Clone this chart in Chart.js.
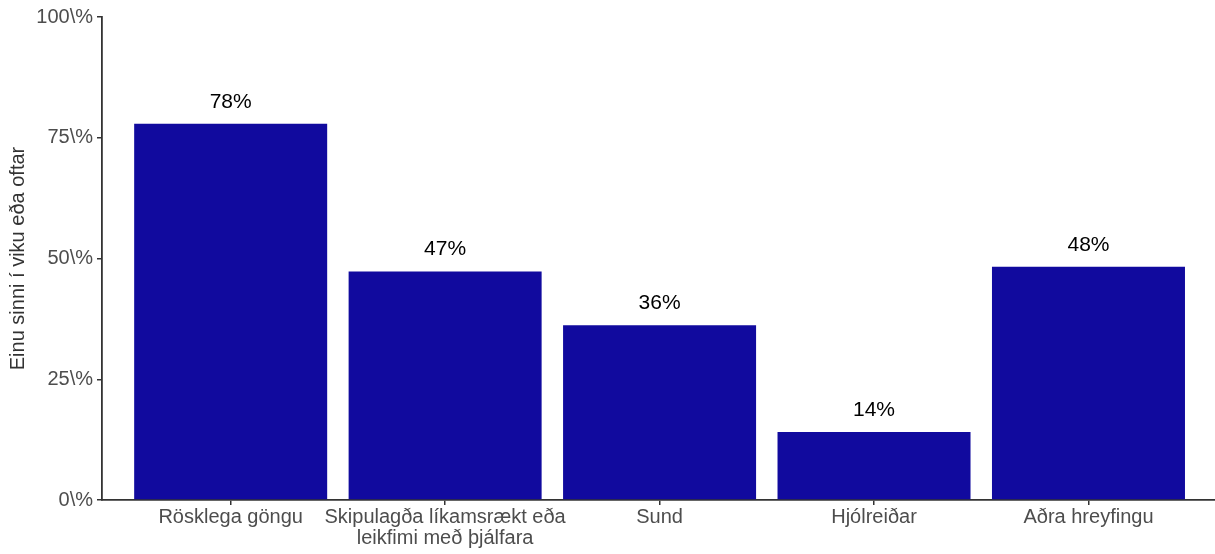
<!DOCTYPE html>
<html>
<head>
<meta charset="utf-8">
<script src="https://cdn.jsdelivr.net/npm/chart.js@4"></script>
<style>
  html, body { margin: 0; padding: 0; background: #fff; }
  #wrap { width: 1215px; height: 554px; }
</style>
</head>
<body>
<div id="wrap"><canvas id="myChart" width="1215" height="554"></canvas></div>
<script>
var categories = [
  'Rösklega göngu',
  ['Skipulagða líkamsrækt eða', 'leikfimi með þjálfara'],
  'Sund',
  'Hjólreiðar',
  'Aðra hreyfingu'
];
var values = [77.9, 47.3, 36.2, 14.1, 48.3];
var yTicks = [0, 25, 50, 75, 100];
var yTitle = 'Einu sinni í viku eða oftar';

var points = [];
for (var i = 0; i < values.length; i++) {
  points.push({x: i, y: values[i]});
}

var fontFam = '"Liberation Sans", Arial, sans-serif';

// labels above the bars
var barLabels = {
  id: 'barLabels',
  afterDatasetsDraw: function (chart) {
    var ctx = chart.ctx;
    var meta = chart.getDatasetMeta(0);
    ctx.save();
    ctx.font = '21px ' + fontFam;
    ctx.fillStyle = '#000';
    ctx.textAlign = 'center';
    ctx.textBaseline = 'middle';
    meta.data.forEach(function (bar, idx) {
      ctx.fillText(Math.round(values[idx]) + '%', bar.x, bar.y - 22);
    });
    ctx.restore();
  }
};

var ctx = document.getElementById('myChart').getContext('2d');
var myChart = new Chart(ctx, {
  type: 'bar',
  data: {
    datasets: [{
      data: points,
      backgroundColor: '#110A9E',
      borderWidth: 0,
      categoryPercentage: 1,
      barPercentage: 0.9
    }]
  },
  options: {
    responsive: false,
    animation: false,
    layout: {padding: {top: 17, right: 0, left: 0, bottom: 0}},
    plugins: {legend: {display: false}, tooltip: {enabled: false}},
    scales: {
      x: {
        type: 'linear',
        offset: false,
        min: -0.6,
        max: values.length - 0.41,
        afterBuildTicks: function (axis) {
          axis.ticks = categories.map(function (c, idx) { return {value: idx}; });
        },
        afterFit: function (axis) { axis.height = 54; },
        grid: {display: true, offset: false, drawOnChartArea: false, drawTicks: true, tickLength: 5, color: '#333', lineWidth: 1.5},
        border: {display: true, color: '#333', width: 1.8},
        ticks: {
          autoSkip: false,
          maxRotation: 0,
          padding: 2,
          color: '#4d4d4d',
          font: {family: fontFam, size: 20, lineHeight: 1.05},
          callback: function (v) { return categories[v]; }
        }
      },
      y: {
        min: 0,
        max: 100,
        afterBuildTicks: function (axis) {
          axis.ticks = yTicks.map(function (t) { return {value: t}; });
        },
        afterFit: function (axis) { axis.width = 102; },
        grid: {display: true, drawOnChartArea: false, drawTicks: true, tickLength: 5, color: '#333', lineWidth: 1.5},
        border: {display: true, color: '#333', width: 1.8},
        ticks: {
          padding: 4,
          color: '#4d4d4d',
          font: {family: fontFam, size: 20},
          callback: function (v) { return v + '\\%'; }
        },
        title: {
          display: true,
          text: yTitle,
          color: '#333',
          padding: {top: 6, bottom: 0},
          font: {family: fontFam, size: 20}
        }
      }
    }
  },
  plugins: [barLabels]
});
</script>
</body>
</html>
